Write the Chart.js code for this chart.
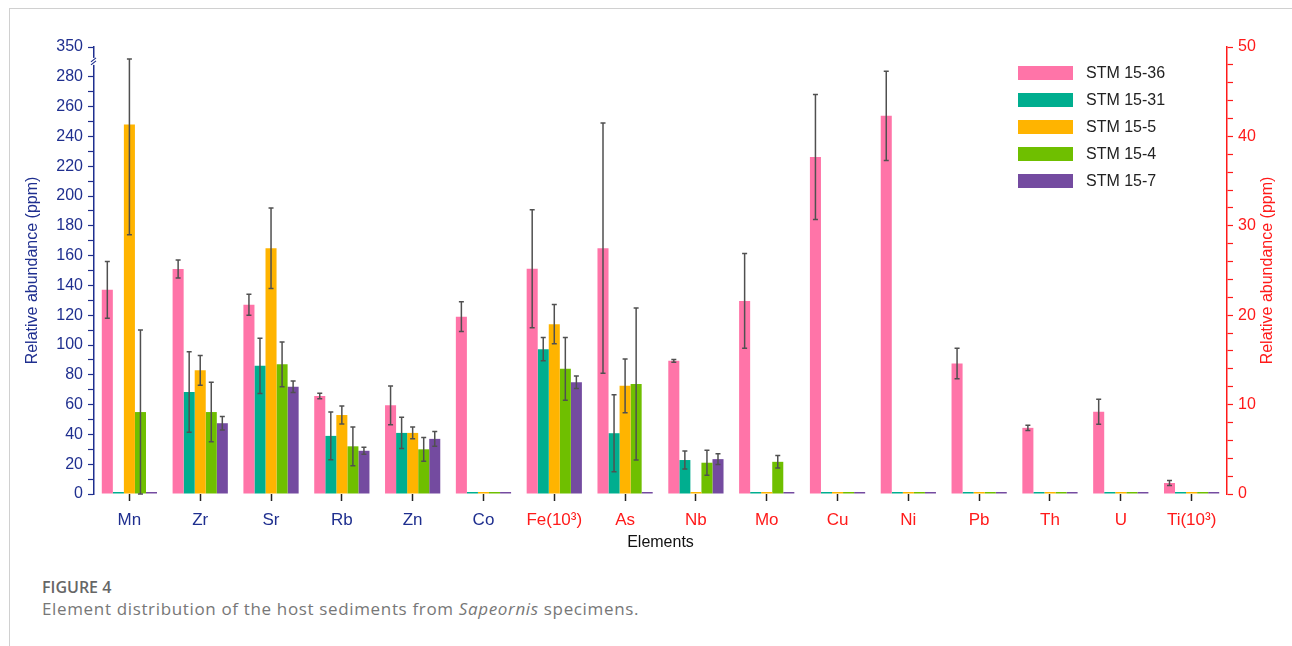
<!DOCTYPE html>
<html>
<head>
<meta charset="utf-8">
<script src="https://cdn.jsdelivr.net/npm/chart.js@4/dist/chart.umd.min.js"></script>
<style>
    body { margin: 0; background: #fff; width: 1292px; height: 646px; overflow: hidden; position: relative; }
    .frame { position: absolute; left: 9px; top: 8px; right: -2px; bottom: -2px; border-left: 1px solid #d0d0d0; border-top: 1px solid #d0d0d0; }
    #wrap { position: absolute; left: 0; top: 0; width: 1292px; height: 560px; }
    #legend { position: absolute; left: 1018px; top: 60px; font-family: "Liberation Sans", Arial, sans-serif; font-size: 16px; color: #222; }
    #legend .row { height: 26.8px; display: flex; align-items: center; }
    #legend .box { width: 55px; height: 14px; margin-right: 13px; }
    .caption { position: absolute; left: 42px; font-family: "Open Sans", "Noto Sans", sans-serif; }
    .fig { top: 576px; font-size: 16px; font-weight: 600; color: #666; }
    .desc { top: 597px; font-size: 17px; letter-spacing: 0.65px; color: #777; }
</style>
</head>
<body>
<div class="frame"></div>
<div id="wrap"><canvas id="elementChart" width="1292" height="560"></canvas></div>
<div id="legend"></div>
<div class="caption fig">FIGURE 4</div>
<div class="caption desc">Element distribution of the host sediments from <i>Sapeornis</i> specimens.</div>
<script>
const elements = ['Mn', 'Zr', 'Sr', 'Rb', 'Zn', 'Co', 'Fe(10³)', 'As', 'Nb', 'Mo', 'Cu', 'Ni', 'Pb', 'Th', 'U', 'Ti(10³)'];
const leftAxisCount = 6; // first 6 elements use the left (ppm) axis, rest the right one

const seriesNames = ['STM 15-36', 'STM 15-31', 'STM 15-5', 'STM 15-4', 'STM 15-7'];
const seriesColors = ['#FF74A8', '#00AE8F', '#FFB400', '#6FBF00', '#744BA0'];

const stm1536 = [137, 151, 127, 65.8, 59.5, 119, 25.2, 27.5, 14.9, 21.6, 37.7, 42.3, 14.6, 7.4, 9.2, 1.23];
const stm1531 = [0, 68.5, 86, 39, 41, 0, 16.2, 6.8, 3.8, 0, 0, 0, 0, 0, 0, 0];
const stm155 = [248, 83, 165, 53, 41, 0, 19, 12.1, 0, 0, 0, 0, 0, 0, 0, 0];
const stm154 = [55, 55, 87, 32, 30, 0, 14, 12.3, 3.5, 3.6, 0, 0, 0, 0, 0, 0];
const stm157 = [0, 47.5, 72, 29, 37, 0, 12.5, 0, 3.9, 0, 0, 0, 0, 0, 0, 0];

const err1536 = [19, 6, 7, 1.8, 13, 10, 6.6, 14, 0.15, 5.3, 7, 5, 1.7, 0.3, 1.4, 0.27];
const err1531 = [0, 27, 18.5, 16, 10.5, 0, 1.3, 4.3, 1, 0, 0, 0, 0, 0, 0, 0];
const err155 = [74, 10, 27, 6, 4, 0, 2.2, 3, 0, 0, 0, 0, 0, 0, 0, 0];
const err154 = [55, 20, 15, 13, 8, 0, 3.5, 8.5, 1.4, 0.7, 0, 0, 0, 0, 0, 0];
const err157 = [0, 4.5, 3.8, 2.3, 5, 0, 0.7, 0, 0.6, 0, 0, 0, 0, 0, 0, 0];

const seriesValues = [stm1536, stm1531, stm155, stm154, stm157];
const seriesErrors = [err1536, err1531, err155, err154, err157];

// left axis is broken: 280 -> 350 squeezed into one 20-unit step
const leftBreak = [280, 350];
const leftMax = 300;
const rightMax = 50;
const axisTitle = 'Relative abundance (ppm)';

const navy = '#1F2F8F';
const red = '#FF1A1A';
const fontFamily = 'Liberation Sans, Arial, sans-serif';

function leftDisp(v) {
    if (v <= leftBreak[0]) return v;
    return leftBreak[0] + (v - leftBreak[0]) * (leftMax - leftBreak[0]) / (leftBreak[1] - leftBreak[0]);
}

const datasets = [];
seriesNames.forEach((name, s) => {
    datasets.push({
        label: name,
        yAxisID: 'y',
        data: seriesValues[s].map((v, i) => i < leftAxisCount ? leftDisp(v) : null),
        series: s,
        backgroundColor: seriesColors[s]
    });
});
seriesNames.forEach((name, s) => {
    datasets.push({
        label: name,
        yAxisID: 'y1',
        data: seriesValues[s].map((v, i) => i >= leftAxisCount ? v : null),
        series: s,
        backgroundColor: seriesColors[s]
    });
});

const errorBars = {
    id: 'errorBars',
    afterDatasetsDraw(chart) {
        const ctx = chart.ctx;
        ctx.save();
        ctx.strokeStyle = '#505050';
        ctx.lineWidth = 1.5;
        chart.data.datasets.forEach((ds, di) => {
            const meta = chart.getDatasetMeta(di);
            const scale = chart.scales[ds.yAxisID];
            const isLeft = ds.yAxisID === 'y';
            meta.data.forEach((bar, i) => {
                const err = seriesErrors[ds.series][i];
                if (ds.data[i] === null || !err) return;
                const raw = seriesValues[ds.series][i];
                const hi = raw + err;
                const lo = raw - err;
                const yTop = scale.getPixelForValue(isLeft ? leftDisp(hi) : hi);
                const yBot = scale.getPixelForValue(isLeft ? leftDisp(lo) : lo);
                const x = bar.x;
                ctx.beginPath();
                ctx.moveTo(x, yTop); ctx.lineTo(x, yBot);
                ctx.moveTo(x - 2.5, yTop); ctx.lineTo(x + 2.5, yTop);
                ctx.moveTo(x - 2.5, yBot); ctx.lineTo(x + 2.5, yBot);
                ctx.stroke();
            });
        });
        ctx.restore();
    },
    afterDraw(chart) {
        const ctx = chart.ctx;
        // break mark on the left axis
        const y = chart.scales.y;
        const py = y.getPixelForValue(290);
        const px = y.right;
        ctx.save();
        ctx.strokeStyle = navy;
        ctx.lineWidth = 1.2;
        ctx.fillStyle = '#fff';
        ctx.fillRect(px - 3, py - 4, 6, 7);
        ctx.beginPath();
        ctx.moveTo(px - 3, py); ctx.lineTo(px + 2, py - 4);
        ctx.moveTo(px - 3, py + 3); ctx.lineTo(px + 2, py - 1);
        ctx.stroke();
        // right axis title reads bottom-to-top like the left one
        const area = chart.chartArea;
        ctx.translate(1268, (area.top + area.bottom) / 2);
        ctx.rotate(-Math.PI / 2);
        ctx.fillStyle = red;
        ctx.font = '16px ' + fontFamily;
        ctx.textAlign = 'center';
        ctx.textBaseline = 'middle';
        ctx.fillText(axisTitle, 0, 0);
        ctx.restore();
    }
};

const ctx = document.getElementById('elementChart').getContext('2d');
new Chart(ctx, {
    type: 'bar',
    data: { labels: elements, datasets },
    options: {
        responsive: false,
        animation: false,
        layout: { padding: { left: 10, right: 0, top: 47, bottom: 6 } },
        datasets: {
            bar: {
                skipNull: true,
                categoryPercentage: 0.78,
                barPercentage: 1.0,
                minBarLength: 2,
                borderWidth: 0
            }
        },
        plugins: {
            legend: { display: false },
            tooltip: { enabled: false }
        },
        scales: {
            x: {
                grid: { drawOnChartArea: false, offset: false, tickLength: 7, tickColor: '#222', tickWidth: 1.5 },
                border: { display: false },
                ticks: {
                    padding: 9,
                    color: c => c.index < leftAxisCount ? navy : red,
                    font: { family: fontFamily, size: 17 },
                    maxRotation: 0,
                    autoSkip: false
                },
                title: {
                    display: true,
                    text: 'Elements',
                    color: '#111',
                    padding: { top: 0, bottom: 2 },
                    font: { family: fontFamily, size: 16 }
                },
                afterFit: s => { s.height = 60; }
            },
            y: {
                position: 'left',
                min: 0,
                max: leftMax,
                grid: {
                    drawOnChartArea: false,
                    tickLength: 6,
                    tickWidth: 1.2,
                    tickColor: c => c.tick && c.tick.value === 290 ? 'rgba(0,0,0,0)' : navy
                },
                border: { color: navy, width: 1.5 },
                ticks: {
                    stepSize: 10,
                    autoSkip: false,
                    padding: 5,
                    color: navy,
                    font: { family: fontFamily, size: 16 },
                    callback: v => v === leftMax ? String(leftBreak[1]) : (v % 20 === 0 && v <= leftBreak[0] ? v : '')
                },
                title: {
                    display: true,
                    text: axisTitle,
                    color: navy,
                    padding: { top: 13, bottom: 0 },
                    font: { family: fontFamily, size: 16 }
                },
                afterFit: s => { s.width = 84; }
            },
            y1: {
                position: 'right',
                min: 0,
                max: rightMax,
                grid: { drawOnChartArea: false, tickLength: 6, tickWidth: 1.2, tickColor: red },
                border: { color: red, width: 1.5 },
                ticks: {
                    stepSize: 2,
                    autoSkip: false,
                    padding: 5,
                    color: red,
                    font: { family: fontFamily, size: 16 },
                    callback: v => v % 10 === 0 ? v : ''
                },
                title: { display: false },
                afterFit: s => { s.width = 65; }
            }
        }
    },
    plugins: [errorBars]
});

const legend = document.getElementById('legend');
seriesNames.forEach((name, s) => {
    const row = document.createElement('div');
    row.className = 'row';
    row.innerHTML = `<span class="box" style="background:${seriesColors[s]}"></span><span>${name}</span>`;
    legend.appendChild(row);
});
</script>
</body>
</html>
